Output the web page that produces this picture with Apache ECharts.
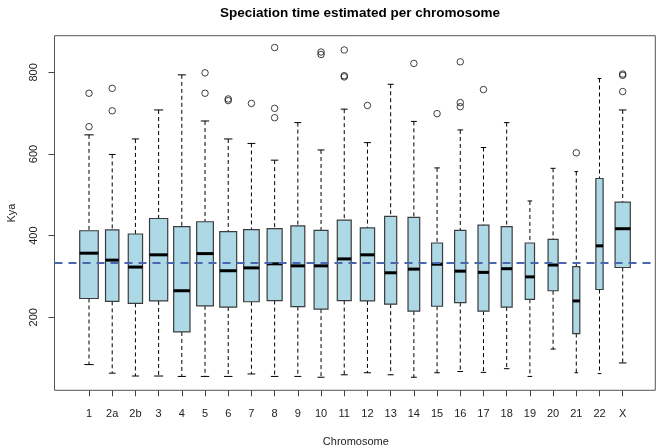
<!DOCTYPE html>
<html>
<head>
<meta charset="utf-8">
<script src="https://cdn.jsdelivr.net/npm/echarts@6/dist/echarts.min.js"></script>
<style>html,body{margin:0;padding:0;background:#fff}#c{width:660px;height:446px}</style>
</head>
<body>
<div id="c"></div>
<script>
var categories = ['1','2a','2b','3','4','5','6','7','8','9','10','11','12','13','14','15','16','17','18','19','20','21','22','X'];
var lowerWhisker = [84, 63, 56, 56, 55, 55, 55, 61, 55, 55, 53, 59, 64, 59, 53, 64, 67, 65, 74, 55, 122, 64, 62, 88];
var q1 = [246, 239, 234, 240, 164, 228, 225, 238, 241, 226, 220, 241, 240, 232, 215, 227, 236, 215, 225, 244, 265, 160, 268, 322];
var median = [357, 340, 323, 353, 265, 356, 314, 321, 331, 326, 326, 343, 353, 309, 318, 330, 313, 310, 319, 299, 328, 240, 375, 417];
var q3 = [412, 414, 404, 442, 422, 434, 410, 415, 417, 424, 413, 438, 419, 447, 445, 382, 413, 426, 422, 382, 391, 324, 540, 482];
var upperWhisker = [647, 599, 637, 708, 794, 681, 637, 626, 585, 677, 610, 710, 628, 771, 680, 566, 659, 616, 677, 485, 565, 557, 785, 708];
// relative sqrt(sample size) per chromosome (varwidth boxes)
var relSampleSize = [1.0, 0.72, 0.77, 0.98, 0.88, 0.9, 0.91, 0.84, 0.81, 0.75, 0.75, 0.75, 0.77, 0.65, 0.63, 0.59, 0.61, 0.59, 0.59, 0.5, 0.54, 0.38, 0.39, 0.82];
var outliers = [
  [667, 749], [706, 761], [], [], [], [749, 799], [731, 735], [724], [689, 712, 861], [],
  [844, 850], [789, 792, 855], [719], [], [822], [699], [716, 726, 826], [758], [], [],
  [], [603], [], [753, 793, 796]
];
var yTicks = [200, 400, 600, 800];
var refValue = 334;
var yMin = 21, yMax = 890;

var boxData = categories.map(function (c, i) {
  return [i, lowerWhisker[i], q1[i], median[i], q3[i], upperWhisker[i], relSampleSize[i]];
});
var outlierData = [];
outliers.forEach(function (arr, i) {
  arr.forEach(function (v) { outlierData.push([i, v]); });
});

var FONT = 'Liberation Sans, Arial, Helvetica, sans-serif';
var chart = echarts.init(document.getElementById('c'), null, {renderer: 'canvas'});

function renderBox(params, api) {
  var idx = api.value(0);
  var pLow = api.coord([idx, api.value(1)]);
  var pQ1 = api.coord([idx, api.value(2)]);
  var pMed = api.coord([idx, api.value(3)]);
  var pQ3 = api.coord([idx, api.value(4)]);
  var pHigh = api.coord([idx, api.value(5)]);
  var band = api.size([1, 0])[0];
  var w = band * 0.8 * api.value(6);
  var cx = pMed[0];
  var cap = w / 2;
  var dash = {stroke: '#000', lineWidth: 1, lineDash: [4, 3]};
  var solid = {stroke: '#000', lineWidth: 1};
  return {
    type: 'group',
    children: [
      {type: 'line', shape: {x1: cx, y1: pHigh[1], x2: cx, y2: pQ3[1]}, style: dash},
      {type: 'line', shape: {x1: cx, y1: pQ1[1], x2: cx, y2: pLow[1]}, style: dash},
      {type: 'line', shape: {x1: cx - cap / 2, y1: pHigh[1], x2: cx + cap / 2, y2: pHigh[1]}, style: solid},
      {type: 'line', shape: {x1: cx - cap / 2, y1: pLow[1], x2: cx + cap / 2, y2: pLow[1]}, style: solid},
      {type: 'rect', shape: {x: cx - w / 2, y: pQ3[1], width: w, height: pQ1[1] - pQ3[1]},
        style: {fill: '#ADD8E6', stroke: '#3c3c3c', lineWidth: 1.2}},
      {type: 'line', shape: {x1: cx - w / 2, y1: pMed[1], x2: cx + w / 2, y2: pMed[1]},
        style: {stroke: '#000', lineWidth: 3}}
    ]
  };
}

var option = {
  animation: false,
  backgroundColor: '#fff',
  textStyle: {fontFamily: FONT},
  title: {
    text: 'Speciation time estimated per chromosome',
    left: 355, top: 1, textAlign: 'center',
    textStyle: {fontFamily: FONT, fontWeight: 'bold', fontSize: 13.5, color: '#000'}
  },
  grid: [
    {left: 54.5, right: 4.7, top: 35.7, bottom: 55.7, show: true, borderColor: '#555', borderWidth: 1,
      backgroundColor: 'transparent', containLabel: false, outerBoundsMode: 'none'},
    {left: 77.4, right: 25.7, top: 35.7, bottom: 55.7, containLabel: false, outerBoundsMode: 'none'}
  ],
  xAxis: [
    {gridIndex: 0, type: 'value', min: 0, max: 1, show: false},
    {
      gridIndex: 1, type: 'category', data: categories,
      boundaryGap: true,
      axisLine: {show: false},
      axisTick: {show: true, alignWithLabel: true, length: 6, lineStyle: {color: '#444'}},
      axisLabel: {margin: 18.5, fontSize: 11, color: '#222', fontFamily: FONT, interval: 0},
      name: 'Chromosome', nameLocation: 'middle', nameGap: 46,
      nameTextStyle: {fontSize: 11, color: '#222', fontFamily: FONT},
      splitLine: {show: false}
    }
  ],
  yAxis: [
    {gridIndex: 0, type: 'value', min: yMin, max: yMax, show: false},
    {
      gridIndex: 1, type: 'value', min: yMin, max: yMax,
      offset: 22.9,
      axisLine: {show: false},
      axisTick: {show: true, length: 6, customValues: yTicks, lineStyle: {color: '#444'}},
      axisLabel: {rotate: 90, margin: 15, fontSize: 11, color: '#222', fontFamily: FONT, customValues: yTicks},
      splitLine: {show: false},
      name: 'Kya', nameLocation: 'middle', nameGap: 37.5, nameRotate: 90,
      nameTextStyle: {fontSize: 11, color: '#222', fontFamily: FONT}
    }
  ],
  series: [
    {
      type: 'line', xAxisIndex: 0, yAxisIndex: 0, data: [], silent: true,
      markLine: {
        silent: true, symbol: 'none', label: {show: false},
        lineStyle: {color: '#4a66ad', width: 2, type: [8, 6]},
        data: [{yAxis: refValue}]
      }
    },
    {
      type: 'custom', xAxisIndex: 1, yAxisIndex: 1,
      renderItem: renderBox, data: boxData,
      encode: {x: 0, y: [1, 2, 3, 4, 5]}, z: 2
    },
    {
      type: 'scatter', xAxisIndex: 1, yAxisIndex: 1, data: outlierData,
      symbol: 'circle', symbolSize: 6.5,
      itemStyle: {color: 'rgba(255,255,255,0)', borderColor: '#111', borderWidth: 1}, z: 3
    }
  ]
};
chart.setOption(option);
</script>
</body>
</html>
